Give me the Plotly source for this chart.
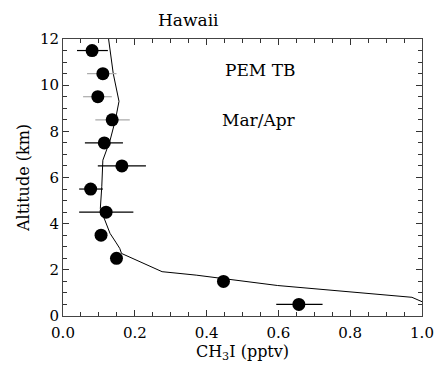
import plotly.graph_objects as go

# Measurements (CH3I, pptv) by altitude bin (km)
alt = [11.5, 10.5, 9.5, 8.5, 7.5, 6.5, 5.5, 4.5, 3.5, 2.5, 1.5, 0.5]
ch3i = [0.081, 0.111, 0.097, 0.137, 0.115, 0.164, 0.077, 0.120, 0.106, 0.149, 0.447, 0.657]
err_lo = [0.039, 0.067, 0.056, 0.090, 0.061, 0.097, 0.045, 0.045, 0.106, 0.149, 0.447, 0.594]
err_hi = [0.125, 0.149, 0.136, 0.186, 0.167, 0.231, 0.111, 0.196, 0.106, 0.149, 0.447, 0.723]
faint = [False, True, True, True, False, False, False, False, False, False, False, False]

# Model profile
model_x = [0.127, 0.131, 0.140, 0.156, 0.146, 0.131, 0.111, 0.108, 0.104, 0.113, 0.131,
           0.147, 0.158, 0.163, 0.276, 0.371, 0.447, 0.598, 0.972, 1.0]
model_alt = [12.0, 11.5, 10.5, 9.3, 8.5, 7.6, 6.75, 5.6, 4.66, 4.3, 3.58,
             3.2, 2.93, 2.71, 1.92, 1.77, 1.63, 1.32, 0.81, 0.62]

FONT = "DejaVu Serif, Liberation Serif, serif"

fig = go.Figure()

fig.add_trace(go.Scatter(x=model_x, y=model_alt, mode="lines",
                         line=dict(color="black", width=1), showlegend=False,
                         hoverinfo="skip"))

for is_faint, col in [(False, "black"), (True, "#aaaaaa")]:
    idx = [i for i in range(len(alt)) if faint[i] == is_faint]
    xs = [ch3i[i] for i in idx]
    ys = [alt[i] for i in idx]
    plus = [err_hi[i] - ch3i[i] for i in idx]
    minus = [ch3i[i] - err_lo[i] for i in idx]
    fig.add_trace(go.Scatter(
        x=xs, y=ys, mode="markers",
        marker=dict(color="black", size=13, symbol="circle"),
        error_x=dict(type="data", symmetric=False, array=plus, arrayminus=minus,
                     color=col, thickness=1.2, width=0),
        showlegend=False))

axis_common = dict(showgrid=False, zeroline=False, showline=True, linecolor="#444",
                   linewidth=1, mirror="ticks", ticks="inside", tickcolor="#333",
                   tickfont=dict(family=FONT, size=15, color="black"))

fig.update_layout(
    width=446, height=367,
    margin=dict(l=63, r=15, t=39, b=51),
    paper_bgcolor="white", plot_bgcolor="white",
    font=dict(family=FONT, color="black"),
    xaxis=dict(range=[0, 1.0], dtick=0.2, tickformat=".1f", ticklen=6,
               ticklabelstandoff=3,
               minor=dict(dtick=0.05, ticks="inside", ticklen=4, tickcolor="#333"),
               title=dict(text="CH<sub>3</sub>I (pptv)",
                          font=dict(family=FONT, size=16, color="black"),
                          standoff=0),
               **axis_common),
    yaxis=dict(range=[0, 12], dtick=2, ticklen=6,
               minor=dict(dtick=0.5, ticks="inside", ticklen=4, tickcolor="#333"),
               title=dict(text="Altitude (km)",
                          font=dict(family=FONT, size=16, color="black"),
                          standoff=6),
               **axis_common),
)

fig.add_annotation(text="Hawaii", x=(192 - 63) / (446 - 63 - 15), y=1.0,
                   xref="paper", yref="paper", yanchor="bottom", yshift=7,
                   showarrow=False, font=dict(family=FONT, size=17, color="black"))
fig.add_annotation(text="PEM TB", x=0.55, y=10.65, xref="x", yref="y",
                   showarrow=False, font=dict(family=FONT, size=17, color="black"))
fig.add_annotation(text="Mar/Apr", x=0.545, y=8.5, xref="x", yref="y",
                   showarrow=False, font=dict(family=FONT, size=17, color="black"))

fig.write_html("out.html")
